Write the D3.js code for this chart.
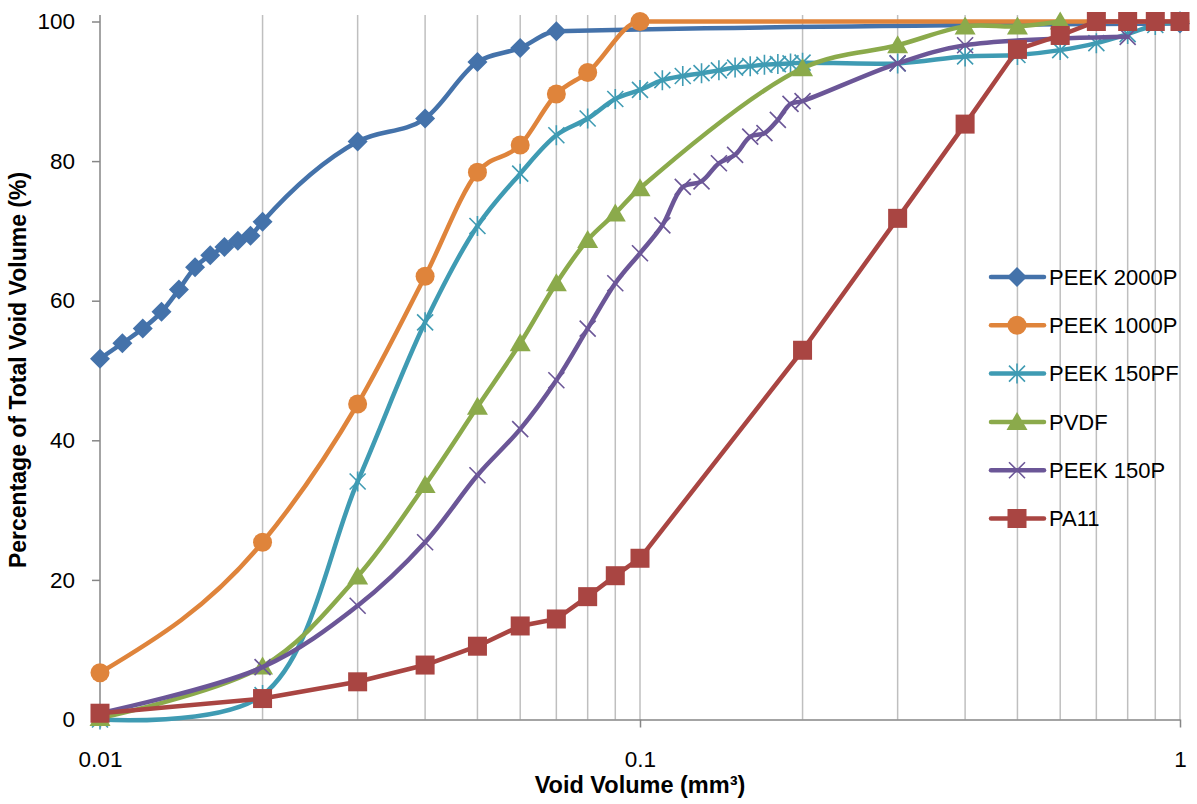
<!DOCTYPE html>
<html>
<head>
<meta charset="utf-8">
<script src="https://cdn.jsdelivr.net/npm/d3@7"></script>
<style>
  html, body { margin: 0; padding: 0; background: #fff; }
  svg { display: block; font-family: "Liberation Sans", Arial, sans-serif; }
</style>
</head>
<body>
<svg id="chart" width="1197" height="804"></svg>
<script>
// ---- Data ----
const seriesNames = ["PEEK 2000P", "PEEK 1000P", "PEEK 150PF", "PVDF", "PEEK 150P", "PA11"];

const peek2000pX = [0.01, 0.011, 0.012, 0.013, 0.014, 0.015, 0.016, 0.017, 0.018, 0.019, 0.02, 0.03, 0.04, 0.05, 0.06, 0.07, 1];
const peek2000pY = [51.7, 53.9, 56.0, 58.4, 61.6, 64.8, 66.5, 67.7, 68.6, 69.3, 71.3, 82.8, 86.1, 94.2, 96.2, 98.6, 99.7];

const peek1000pX = [0.01, 0.02, 0.03, 0.04, 0.05, 0.06, 0.07, 0.08, 0.1, 1];
const peek1000pY = [6.7, 25.4, 45.2, 63.5, 78.4, 82.3, 89.6, 92.7, 100, 100];

const peek150pfX = [0.01, 0.02, 0.03, 0.04, 0.05, 0.06, 0.07, 0.08, 0.09, 0.1, 0.11, 0.12, 0.13, 0.14, 0.15, 0.16, 0.17, 0.18, 0.19, 0.2, 0.3, 0.4, 0.5, 0.6, 0.7, 0.8, 0.9, 1];
const peek150pfY = [0, 3.5, 34.1, 56.9, 70.7, 78.2, 83.7, 86.1, 88.9, 90.2, 91.6, 92.2, 92.6, 93.0, 93.4, 93.6, 93.8, 93.9, 94.0, 94.1, 94.0, 95.0, 95.2, 95.9, 96.9, 98.2, 99.5, 100];

const pvdfX = [0.01, 0.02, 0.03, 0.04, 0.05, 0.06, 0.07, 0.08, 0.09, 0.1, 0.2, 0.3, 0.4, 0.5, 0.6];
const pvdfY = [0.2, 7.6, 20.5, 33.6, 44.8, 53.9, 62.5, 68.7, 72.5, 76.1, 93.3, 96.6, 99.3, 99.3, 100];

const peek150pX = [0.01, 0.02, 0.03, 0.04, 0.05, 0.06, 0.07, 0.08, 0.09, 0.1, 0.11, 0.12, 0.13, 0.14, 0.15, 0.16, 0.17, 0.18, 0.19, 0.2, 0.3, 0.4, 0.8];
const peek150pY = [0.9, 7.5, 16.3, 25.4, 35.0, 41.6, 48.6, 56.0, 62.5, 66.8, 70.8, 76.3, 77.1, 79.7, 80.9, 83.5, 84.0, 85.9, 88.2, 88.6, 94.0, 96.6, 97.8];

const pa11X = [0.01, 0.02, 0.03, 0.04, 0.05, 0.06, 0.07, 0.08, 0.09, 0.1, 0.2, 0.3, 0.4, 0.5, 0.6, 0.7, 0.8, 0.9, 1];
const pa11Y = [0.9, 3.0, 5.4, 7.8, 10.5, 13.4, 14.4, 17.6, 20.6, 23.1, 52.9, 71.8, 85.3, 96.0, 98.0, 100, 100, 100, 100];

const xTickValues = [0.01, 0.1, 1];
const xTickLabels = ["0.01", "0.1", "1"];
const yTickValues = [0, 20, 40, 60, 80, 100];
const xTitle = "Void Volume (mm³)";
const yTitle = "Percentage of Total Void Volume (%)";

// ---- Styles ----
const colors = ["#4472AA", "#DF843B", "#3F9BB3", "#8BAA4B", "#6B5697", "#A94542"];
const markerTypes = ["diamond", "circle", "asterisk", "triangle", "x", "square"];
const curveTypes = ["monotone", "monotone", "smooth", "smooth", "smooth", "linear"];

const seriesX = [peek2000pX, peek1000pX, peek150pfX, pvdfX, peek150pX, pa11X];
const seriesY = [peek2000pY, peek1000pY, peek150pfY, pvdfY, peek150pY, pa11Y];
const series = seriesNames.map((name, i) => ({
  name, color: colors[i], marker: markerTypes[i], curve: curveTypes[i],
  points: seriesX[i].map((x, j) => ({ x, y: seriesY[i][j] }))
}));

const svg = d3.select("#chart");
const left = 100, right = 1180, top0 = 21.5, bottom = 719.5, plotTop = 15;

const x = d3.scaleLog().domain([0.01, 1]).range([left, right]);
const y = d3.scaleLinear().domain([0, 100]).range([bottom, top0]);

// Vertical gridlines at each log tick
const gridVals = [];
for (let d = 0.01; d < 1; d *= 10) {
  for (let k = 2; k <= 10; k++) gridVals.push(+(d * k).toFixed(4));
}
svg.append("g").selectAll("line").data(gridVals).join("line")
  .attr("x1", d => x(d)).attr("x2", d => x(d))
  .attr("y1", plotTop).attr("y2", bottom)
  .attr("stroke", "#BFBFBF").attr("stroke-width", 1.5);

// Y axis
const yAxis = d3.axisLeft(y).tickValues(yTickValues).tickSize(8).tickPadding(17).tickSizeOuter(0);
const gy = svg.append("g").attr("transform", `translate(${left},0)`).call(yAxis);
gy.select(".domain").remove();
gy.selectAll(".tick line").attr("stroke", "#868686").attr("stroke-width", 1.5);
gy.selectAll(".tick text").attr("font-size", 22.5).attr("fill", "#000")
  .attr("font-family", "Liberation Sans, Arial, sans-serif");
svg.append("line").attr("x1", left).attr("x2", left).attr("y1", plotTop).attr("y2", bottom)
  .attr("stroke", "#868686").attr("stroke-width", 1.5);

// X axis
const xAxis = d3.axisBottom(x).tickValues(xTickValues).tickFormat((d, i) => xTickLabels[i])
  .tickSize(8).tickPadding(24).tickSizeOuter(0);
const gx = svg.append("g").attr("transform", `translate(0,${bottom})`).call(xAxis);
gx.select(".domain").attr("stroke", "#868686").attr("stroke-width", 1.5);
gx.selectAll(".tick line").attr("stroke", "#868686").attr("stroke-width", 1.5);
gx.selectAll(".tick text").attr("font-size", 22.5).attr("fill", "#000")
  .attr("font-family", "Liberation Sans, Arial, sans-serif");

// Axis titles
svg.append("text").attr("x", 640).attr("y", 793)
  .attr("text-anchor", "middle").attr("font-weight", "bold").attr("font-size", 23.5)
  .text(xTitle);
svg.append("text").attr("transform", `translate(26,370) rotate(-90)`)
  .attr("text-anchor", "middle").attr("font-weight", "bold").attr("font-size", 23)
  .text(yTitle);

// Marker drawing
function drawMarker(g, type, color) {
  if (type === "diamond") {
    g.append("path").attr("d", "M0,-10L10,0L0,10L-10,0Z").attr("fill", color);
  } else if (type === "circle") {
    g.append("circle").attr("r", 9.5).attr("fill", color);
  } else if (type === "square") {
    g.append("rect").attr("x", -9.5).attr("y", -9.5).attr("width", 19).attr("height", 19).attr("fill", color);
  } else if (type === "triangle") {
    g.append("path").attr("d", "M0,-10L10.5,8L-10.5,8Z").attr("fill", color);
  } else if (type === "x") {
    g.append("path").attr("d", "M-8,-8L8,8M-8,8L8,-8").attr("stroke", color).attr("stroke-width", 1.6).attr("fill", "none");
  } else if (type === "asterisk") {
    g.append("path").attr("d", "M-8,-8L8,8M-8,8L8,-8M0,-10L0,10").attr("stroke", color).attr("stroke-width", 1.6).attr("fill", "none");
  }
}

function curveFor(t) {
  if (t === "monotone") return d3.curveMonotoneX;
  if (t === "smooth") return d3.curveCatmullRom.alpha(0.5);
  return d3.curveLinear;
}

// Lines and markers
series.forEach(s => {
  const line = d3.line().x(d => x(d.x)).y(d => y(d.y)).curve(curveFor(s.curve));
  const g = svg.append("g");
  g.append("path").datum(s.points).attr("d", line)
    .attr("fill", "none").attr("stroke", s.color).attr("stroke-width", 4.5)
    .attr("stroke-linejoin", "round").attr("stroke-linecap", "round");
  g.selectAll("g.m").data(s.points).join("g").attr("class", "m")
    .attr("transform", d => `translate(${x(d.x)},${y(d.y)})`)
    .each(function() { drawMarker(d3.select(this), s.marker, s.color); });
});

// Legend
const legendY0 = 277, legendStep = 48.3;
series.forEach((s, i) => {
  const ly = legendY0 + i * legendStep;
  const g = svg.append("g").attr("transform", `translate(0,${ly})`);
  g.append("line").attr("x1", 991).attr("x2", 1044).attr("y1", 0).attr("y2", 0)
    .attr("stroke", s.color).attr("stroke-width", 4.5).attr("stroke-linecap", "round");
  const mg = g.append("g").attr("transform", "translate(1017,0)");
  drawMarker(mg, s.marker, s.color);
  g.append("text").attr("x", 1049).attr("y", 0).attr("dy", "0.35em")
    .attr("font-size", 22).attr("fill", "#000").text(s.name);
});
</script>
</body>
</html>
